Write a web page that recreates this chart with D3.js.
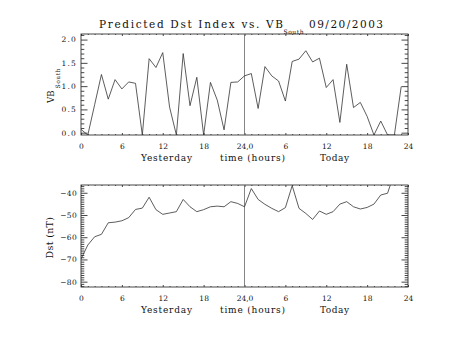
<!DOCTYPE html>
<html><head><meta charset="utf-8">
<script src="https://cdn.jsdelivr.net/npm/d3@7"></script>
<style>
body{margin:0;background:#fff}
text{font-family:"DejaVu Serif",serif;fill:#111}
</style></head>
<body><svg id="c" width="453" height="340"></svg>
<script>
// ---- data ----
const vbHours = d3.range(0, 48);
const vbSouth = [0.07, -0.05, 0.60, 1.25, 0.72, 1.14, 0.94, 1.09, 1.06, -0.05,
  1.59, 1.40, 1.72, 0.55, -0.05, 1.70, 0.58, 1.19, -0.05, 1.08,
  0.70, 0.06, 1.08, 1.09, 1.22, 1.27, 0.52, 1.42, 1.22, 1.11,
  0.68, 1.53, 1.58, 1.76, 1.52, 1.60, 0.97, 1.14, 0.22, 1.47,
  0.54, 0.65, 0.35, -0.05, 0.25, -0.05, -0.05, 0.99];
const dstHours = d3.range(0, 47);
const dst = [-69.8, -63.5, -59.8, -58.7, -53.5, -53.2, -52.6, -51.2, -47.5, -46.9,
  -42.0, -47.6, -49.7, -49.1, -48.5, -43.0, -46.3, -48.5, -47.6, -46.3,
  -46.0, -46.3, -44.0, -44.8, -46.3, -38.1, -43.0, -45.2, -47.0, -48.5,
  -46.7, -36.8, -47.0, -49.3, -52.0, -48.2, -49.7, -48.5, -45.1, -44.0,
  -46.3, -47.3, -46.6, -45.1, -41.0, -40.2, -31.0];
const xTickValues = [0, 6, 12, 18, 24, 30, 36, 42, 48];
const xTickLabels = ["0", "6", "12", "18", "24,0", "6", "12", "18", "24"];
const vbTicks = [0, 0.5, 1.0, 1.5, 2.0];
const dstTicks = [-80, -70, -60, -50, -40];
const dayMarker = 24;

// ---- layout ----
const svg = d3.select("#c");
const X0 = 81, X1 = 408;
const ink = "#333";
const x = d3.scaleLinear().domain([0, 48]).range([X0, X1]);
const xMinor = d3.range(0, 49).filter(d => d % 6 !== 0);

const panels = [
  {id: "p1", top: 34, bottom: 135, domain: [-0.05, 2.12], majors: vbTicks,
   minors: d3.range(0, 22).map(d => d / 10).filter(d => (d * 10) % 5 !== 0),
   fmt: d3.format(".1f"), hours: vbHours, vals: vbSouth},
  {id: "p2", top: 185, bottom: 287, domain: [-82.4, -36.5], majors: dstTicks,
   minors: d3.range(-82, -36).filter(d => d % 10 !== 0),
   fmt: d => (d < 0 ? "\u2212" + Math.abs(d) : "" + d), hours: dstHours, vals: dst}
];

function style(g) {
  g.select(".domain").remove();
  g.selectAll("line").attr("stroke", ink).attr("stroke-width", 0.9);
  g.selectAll("text").style("font-family", "DejaVu Serif").style("font-size", "7.5px").attr("fill", "#111");
}

panels.forEach(p => {
  const y = d3.scaleLinear().domain(p.domain).range([p.bottom, p.top]);
  const g = svg.append("g");
  svg.append("clipPath").attr("id", "clip-" + p.id)
    .append("rect").attr("x", X0).attr("y", p.top).attr("width", X1 - X0).attr("height", p.bottom - p.top);

  // x axes
  g.append("g").attr("transform", `translate(0,${p.bottom})`)
    .call(d3.axisBottom(x).tickValues(xTickValues).tickSize(-2).tickSizeOuter(0).tickPadding(9)
      .tickFormat((d, i) => xTickLabels[i])).call(style);
  g.append("g").attr("transform", `translate(0,${p.bottom})`)
    .call(d3.axisBottom(x).tickValues(xMinor).tickSize(-1).tickSizeOuter(0).tickFormat("")).call(style);
  g.append("g").attr("transform", `translate(0,${p.top})`)
    .call(d3.axisTop(x).tickValues(xTickValues).tickSize(-2).tickSizeOuter(0).tickFormat("")).call(style);
  g.append("g").attr("transform", `translate(0,${p.top})`)
    .call(d3.axisTop(x).tickValues(xMinor).tickSize(-1).tickSizeOuter(0).tickFormat("")).call(style);
  // y axes
  g.append("g").attr("transform", `translate(${X0},0)`)
    .call(d3.axisLeft(y).tickValues(p.majors).tickSize(-6.5).tickSizeOuter(0).tickPadding(4)
      .tickFormat(p.fmt)).call(style)
    .selectAll("text").attr("letter-spacing", p.id === "p1" ? "1.2px" : "0.3px");
  g.append("g").attr("transform", `translate(${X0},0)`)
    .call(d3.axisLeft(y).tickValues(p.minors).tickSize(-3.3).tickSizeOuter(0).tickFormat("")).call(style);
  g.append("g").attr("transform", `translate(${X1},0)`)
    .call(d3.axisRight(y).tickValues(p.majors).tickSize(-6.5).tickSizeOuter(0).tickFormat("")).call(style);
  g.append("g").attr("transform", `translate(${X1},0)`)
    .call(d3.axisRight(y).tickValues(p.minors).tickSize(-3.3).tickSizeOuter(0).tickFormat("")).call(style);

  // frame
  g.append("rect").attr("x", X0).attr("y", p.top).attr("width", X1 - X0).attr("height", p.bottom - p.top)
    .attr("fill", "none").attr("stroke", ink).attr("stroke-width", 0.9);

  // day marker
  g.append("line").attr("x1", x(dayMarker)).attr("x2", x(dayMarker))
    .attr("y1", p.top).attr("y2", p.bottom).attr("stroke", "#666").attr("stroke-width", 0.8);

  // data line
  const line = d3.line().x((d, i) => x(p.hours[i])).y(d => y(d));
  g.append("path").datum(p.vals).attr("d", line).attr("fill", "none")
    .attr("stroke", "#333").attr("stroke-width", 0.8)
    .attr("clip-path", `url(#clip-${p.id})`);

  // x axis titles
  const labY = p.bottom + 25.5;
  g.append("text").attr("x", 141).attr("y", labY).attr("font-size", 9).attr("textLength", 51).text("Yesterday");
  g.append("text").attr("x", 220).attr("y", labY).attr("font-size", 9).attr("textLength", 65).text("time (hours)");
  g.append("text").attr("x", 320).attr("y", labY).attr("font-size", 9).attr("textLength", 29).text("Today");
});

// y axis titles
svg.append("text").attr("transform", "translate(53.5,103) rotate(-90)")
  .attr("font-size", 8.5).text("VB");
svg.append("text").attr("transform", "translate(59.5,88.5) rotate(-90)")
  .attr("font-size", 6).attr("textLength", 20).text("South");
svg.append("text").attr("transform", "translate(52.5,258.5) rotate(-90)")
  .attr("font-size", 9.5).attr("textLength", 41.5).text("Dst (nT)");

// title
svg.append("text").attr("x", 99).attr("y", 28.3).attr("font-size", 10.5).attr("textLength", 184)
  .text("Predicted Dst Index vs. VB");
svg.append("text").attr("x", 283.5).attr("y", 34).attr("font-size", 6).attr("textLength", 20).text("South");
svg.append("text").attr("x", 309).attr("y", 28.3).attr("font-size", 10.5).attr("textLength", 74).text("09/20/2003");
</script>
</body></html>
